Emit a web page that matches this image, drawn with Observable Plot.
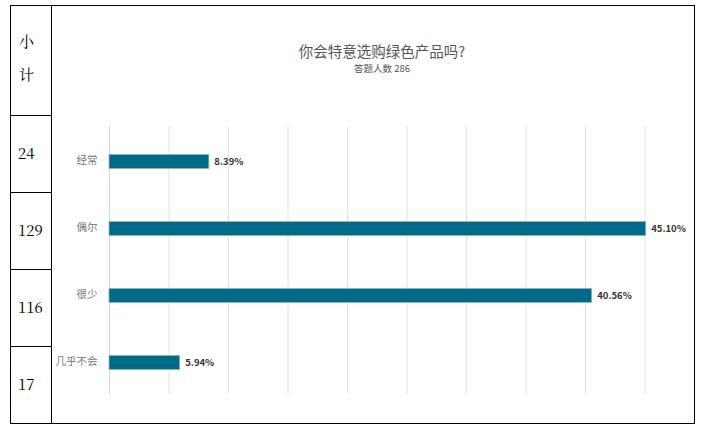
<!DOCTYPE html>
<html>
<head>
<meta charset="utf-8">
<script src="https://cdn.jsdelivr.net/npm/d3@7"></script>
<script src="https://cdn.jsdelivr.net/npm/@observablehq/plot@0.6"></script>
<style>
  html, body { margin: 0; padding: 0; background: #fff; }
  #wrap { position: relative; width: 703px; height: 434px; overflow: hidden; font-family: "Noto Sans CJK SC", sans-serif; }
  #chart { position: absolute; left: 0; top: 0; }
  .line { position: absolute; background: #000; }
  .cell { position: absolute; font-family: "Noto Serif CJK SC", "Liberation Serif", "DejaVu Serif", serif; font-size: 15px; color: #000; }
  #title { position: absolute; left: 182px; width: 400px; top: 41px; text-align: center; font-size: 14.5px; color: #555; line-height: 20px; }
  #subtitle { position: absolute; left: 182px; width: 400px; top: 61px; text-align: center; font-size: 9.5px; color: #555; line-height: 14px; }
</style>
</head>
<body>
<div id="wrap"></div>
<script>
const categories = ["经常", "偶尔", "很少", "几乎不会"];
const percents = [8.39, 45.10, 40.56, 5.94];
const counts = [24, 129, 116, 17];
const xTicks = [0, 5, 10, 15, 20, 25, 30, 35, 40, 45];
const titleText = "你会特意选购绿色产品吗?";
const subtitleText = "答题人数 286";
const headerChars = ["小", "计"];

const data = categories.map((c, i) => ({category: c, pct: percents[i], count: counts[i]}));

const wrap = document.getElementById("wrap");

const chart = Plot.plot({
  width: 703,
  height: 434,
  marginLeft: 109,
  marginRight: 57.3,
  marginTop: 126,
  marginBottom: 40,
  style: {background: "transparent", fontFamily: "Noto Sans CJK SC, sans-serif"},
  x: {domain: [0, 45.1], axis: null},
  y: {domain: categories, paddingInner: 0.79, paddingOuter: 0.395, round: false, axis: null},
  marks: [
    Plot.gridX(xTicks.filter(d => d > 0), {stroke: "#e2e2e2", strokeOpacity: 1, strokeWidth: 1}),
    Plot.gridX([0], {stroke: "#c9d9ee", strokeOpacity: 1, strokeWidth: 1}),
    Plot.barX(data, {x: "pct", y: "category", dy: 2, fill: "#006A87", stroke: "#8ab9c8", strokeWidth: 0.8}),
    Plot.text(data, {x: "pct", y: "category", text: d => d.pct.toFixed(2) + "%", dx: 5, dy: 2, textAnchor: "start",
      fontSize: 9.5, fontWeight: "bold", fill: "#333", fontFamily: "Noto Sans CJK SC, sans-serif"}),
    Plot.text(data, {x: 0, y: "category", text: "category", dx: -12, dy: 1, textAnchor: "end",
      fontSize: 10.5, fill: "#777", fontFamily: "Noto Sans CJK SC, sans-serif"})
  ]
});
chart.id = "chart";
wrap.appendChild(chart);

// Title
const t = document.createElement("div"); t.id = "title"; t.textContent = titleText; wrap.appendChild(t);
const s = document.createElement("div"); s.id = "subtitle"; s.textContent = subtitleText; wrap.appendChild(s);

// Table frame
function line(x, y, w, h) {
  const d = document.createElement("div"); d.className = "line";
  d.style.left = x + "px"; d.style.top = y + "px"; d.style.width = w + "px"; d.style.height = h + "px";
  wrap.appendChild(d);
}
const L = 10, T = 5, R = 694, B = 423, C = 51;
line(L, T, R - L, 1.3);
line(L, B, R - L, 1.3);
line(L, T, 1.3, B - T + 1);
line(R, T, 1.3, B - T + 1);
line(C, T, 1.3, B - T + 1);
const rowLines = [115, 192, 269, 346];
rowLines.forEach(y => line(L, y, C - L, 1.3));

// Header cell
headerChars.forEach((ch, i) => {
  const d = document.createElement("div"); d.className = "cell";
  d.textContent = ch; d.style.left = "19px"; d.style.top = (30 + i * 33) + "px";
  wrap.appendChild(d);
});
// Count cells
const rowTops = [142, 219, 296, 373];
counts.forEach((c, i) => {
  const d = document.createElement("div"); d.className = "cell";
  d.textContent = String(c); d.style.left = "18px"; d.style.top = rowTops[i] + "px";
  wrap.appendChild(d);
});
</script>
</body>
</html>
